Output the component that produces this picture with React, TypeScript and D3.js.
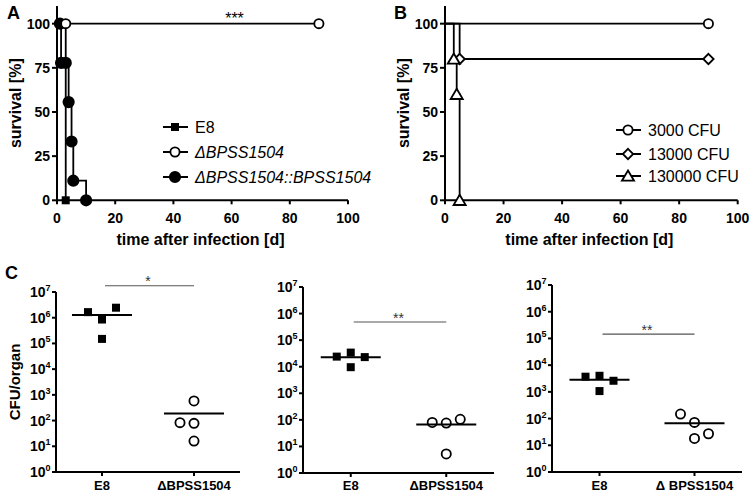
import React from "react";
import * as d3 from "d3";

const FONT = "'Liberation Sans', Arial, Helvetica, sans-serif";

// ---------- Panel A / B data: [day, % survival] ----------
const survivalTicks = [0, 25, 50, 75, 100];
const dayTicks = [0, 20, 40, 60, 80, 100];

const aE8: [number, number][] = [[0, 100], [2, 100], [3, 0]];
const aMutant: [number, number][] = [[0, 100], [3, 100], [90, 100]];
const aComplement: [number, number][] = [
  [0, 100], [1, 100], [1.4, 77.8], [3, 77.8], [4, 55.6], [5, 33.3], [5.6, 11.1], [10, 0],
];
const aLegend = ["E8", "ΔBPSS1504", "ΔBPSS1504::BPSS1504"];
const aSignif = "***";

const b3000: [number, number][] = [[0, 100], [90, 100]];
const b13000: [number, number][] = [[0, 100], [5, 80], [90, 80]];
const b130000: [number, number][] = [[0, 100], [3, 80], [4, 60], [5, 0]];
const bLegend = ["3000 CFU", "13000 CFU", "130000 CFU"];

// ---------- Panel C data: CFU/organ ----------
const cExponents = [0, 1, 2, 3, 4, 5, 6, 7];
const cGroups = ["E8", "ΔBPSS1504"];
const c3Labels = ["E8", "Δ BPSS1504"];

const c1E8 = [1.65e6, 8.5e5, 2.45e6, 1.5e5];
const c1Mut = [580, 83, 78, 16];
const c2E8 = [2.4e4, 3.4e4, 2.3e4, 9.6e3];
const c2Mut = [80, 76, 105, 5.2];
const c3E8 = [3.7e3, 4.0e3, 2.6e3, 1.07e3];
const c3Mut = [148, 72, 27, 18];

// horizontal dodge slot of each point inside its column
const c1E8Slot = [-1, 0, 1, 0];
const c1MutSlot = [0, -1, 0, 0];
const c2E8Slot = [-1, 0, 1, 0];
const c2MutSlot = [-1, 0, 1, 0];
const c3E8Slot = [-1, 0, 1, 0];
const c3MutSlot = [-1, 0, 1, 0];

const cSignif = ["*", "**", "**"];
const cSignifLevel = [1.74e7, 4.8e5, 1.45e5];

type Pt = [number, number];
type Shape = "square" | "circle" | "diamond" | "triangle";

function Marker({ shape, x, y, filled }: { shape: Shape; x: number; y: number; filled: boolean }) {
  const fill = filled ? "#000" : "#fff";
  const sw = 1.8;
  if (shape === "square") {
    const s = 8;
    return <rect x={x - s / 2} y={y - s / 2} width={s} height={s} fill="#000" />;
  }
  if (shape === "circle") {
    const r = filled ? 5.2 : 4.6;
    return <circle cx={x} cy={y} r={r} fill={fill} stroke="#000" strokeWidth={sw} />;
  }
  if (shape === "diamond") {
    const h = 5.2;
    return (
      <path d={`M${x},${y - h}L${x + h},${y}L${x},${y + h}L${x - h},${y}Z`} fill={fill} stroke="#000" strokeWidth={sw} />
    );
  }
  const h = 5.5;
  return (
    <path d={`M${x},${y - h}L${x + h * 1.1},${y + h * 0.85}L${x - h * 1.1},${y + h * 0.85}Z`} fill={fill} stroke="#000" strokeWidth={sw} />
  );
}

type KMSeries = { data: Pt[]; shape: Shape; filled: boolean; label: string; italic: boolean };

function KMPanel({
  left, right, top, bottom, letter, letterX, series, drawOrder, legendX, legendY, signif,
}: {
  left: number; right: number; top: number; bottom: number; letter: string; letterX: number;
  series: KMSeries[]; drawOrder: number[]; legendX: number; legendY: number[]; signif?: string;
}) {
  const x = d3.scaleLinear().domain([0, 100]).range([left, right]);
  const y = d3.scaleLinear().domain([0, 110]).range([bottom, top]);
  const line = d3.line<Pt>().x((d) => x(d[0])).y((d) => y(d[1])).curve(d3.curveStepAfter);
  const ordered = drawOrder.map((i) => series[i]);
  return (
    <g fontFamily={FONT}>
      <text x={letterX} y={19} fontSize={18} fontWeight="bold">{letter}</text>
      {/* axes */}
      <line x1={left} x2={left} y1={y(110)} y2={bottom + 1} stroke="#000" strokeWidth={2} />
      <line x1={left - 1} x2={right} y1={bottom} y2={bottom} stroke="#000" strokeWidth={2} />
      {survivalTicks.map((t) => (
        <g key={t}>
          <line x1={left - 5} x2={left} y1={y(t)} y2={y(t)} stroke="#000" strokeWidth={2} />
          <text x={left - 7} y={y(t)} dy="0.36em" textAnchor="end" fontSize={14} fontWeight="bold">{t}</text>
        </g>
      ))}
      {dayTicks.map((t) => (
        <g key={t}>
          <line x1={x(t)} x2={x(t)} y1={bottom} y2={bottom + 4} stroke="#000" strokeWidth={2} />
          <text x={x(t)} y={bottom + 23} textAnchor="middle" fontSize={14} fontWeight="bold">{t}</text>
        </g>
      ))}
      <text transform={`translate(${left - 42},${(y(110) + bottom) / 2}) rotate(-90)`} textAnchor="middle" dy="0.35em" fontSize={16} fontWeight="bold">
        survival [%]
      </text>
      <text x={(left + right) / 2 - 2} y={bottom + 45} textAnchor="middle" fontSize={16} fontWeight="bold">
        time after infection [d]
      </text>
      {/* curves */}
      {ordered.map((s, i) => (
        <path key={i} d={line(s.data) || ""} fill="none" stroke="#000" strokeWidth={1.8} />
      ))}
      {ordered.map((s, i) =>
        s.data.filter((d) => d[0] > 0).map((d, j) => (
          <Marker key={`${i}-${j}`} shape={s.shape} filled={s.filled} x={x(d[0])} y={y(d[1])} />
        ))
      )}
      {signif && (
        <text x={x(61)} y={24} textAnchor="middle" fontSize={16}>{signif}</text>
      )}
      {/* legend */}
      {series.map((s, i) => (
        <g key={s.label}>
          <line x1={legendX - 12} x2={legendX + 13} y1={legendY[i]} y2={legendY[i]} stroke="#000" strokeWidth={2} />
          <Marker shape={s.shape} filled={s.filled} x={legendX} y={legendY[i]} />
          <text x={legendX + 20} y={legendY[i]} dy="0.36em" fontSize={16} fontStyle={s.italic ? "italic" : "normal"}>{s.label}</text>
        </g>
      ))}
    </g>
  );
}

type Column = { values: number[]; slots: number[]; shape: Shape; filled: boolean };

function CFUPanel({
  left, right, top, bottom, labels, columns, signif, signifLevel, showTitle,
}: {
  left: number; right: number; top: number; bottom: number; labels: string[]; columns: Column[];
  signif: string; signifLevel: number; showTitle: boolean;
}) {
  const y = d3.scaleLog().domain([1, 1e7]).range([bottom, top]);
  const x = d3.scalePoint<string>().domain(cGroups).range([left, right]).padding(0.5);
  const slot = d3.scaleLinear().domain([-1, 1]).range([-14, 14]);
  const sigY = y(signifLevel);
  return (
    <g fontFamily={FONT}>
      {showTitle && (
        <>
          <text x={5} y={279} fontSize={18} fontWeight="bold">C</text>
          <text transform={`translate(${left - 41},${(top + bottom) / 2}) rotate(-90)`} textAnchor="middle" dy="0.35em" fontSize={15} fontWeight="bold">
            CFU/organ
          </text>
        </>
      )}
      <line x1={left} x2={left} y1={top} y2={bottom + 1} stroke="#000" strokeWidth={2} />
      <line x1={left - 1} x2={right} y1={bottom} y2={bottom} stroke="#000" strokeWidth={2} />
      {cExponents.map((e) => (
        <g key={e}>
          <line x1={left - 4} x2={left} y1={y(Math.pow(10, e))} y2={y(Math.pow(10, e))} stroke="#000" strokeWidth={2} />
          <text x={left - 5.5} y={y(Math.pow(10, e)) + 5} textAnchor="end" fontSize={14} fontWeight="bold">
            10<tspan dy={-6} fontSize={9}>{e}</tspan>
          </text>
        </g>
      ))}
      {cGroups.map((g, i) => (
        <g key={g}>
          <line x1={x(g)!} x2={x(g)!} y1={bottom} y2={bottom + 4} stroke="#000" strokeWidth={2} />
          <text x={x(g)!} y={490} textAnchor="middle" fontSize={13} fontWeight="bold">{labels[i]}</text>
        </g>
      ))}
      {columns.map((c, i) => {
        const cx = x(cGroups[i])!;
        const mean = d3.mean(c.values)!;
        return (
          <g key={i}>
            {c.values.map((v, j) => (
              <Marker key={j} shape={c.shape} filled={c.filled} x={cx + slot(c.slots[j])} y={y(v)} />
            ))}
            <line x1={cx - 30} x2={cx + 30} y1={y(mean)} y2={y(mean)} stroke="#000" strokeWidth={2} />
          </g>
        );
      })}
      <line x1={x(cGroups[0])! + 3} x2={x(cGroups[1])!} y1={sigY} y2={sigY} stroke="#555" strokeWidth={1.1} />
      <text x={(x(cGroups[0])! + x(cGroups[1])!) / 2} y={sigY + 0.5} textAnchor="middle" fontSize={14} fill="#333">{signif}</text>
    </g>
  );
}

export default function App() {
  return (
    <svg width={750} height={495} viewBox="0 0 750 495" style={{ position: "absolute", left: 0, top: 0, background: "#fff" }}>
      <rect width={750} height={495} fill="#fff" />
      <KMPanel
        left={57} right={348} top={6} bottom={200.3} letter="A" letterX={7}
        series={[
          { data: aE8, shape: "square", filled: true, label: aLegend[0], italic: false },
          { data: aMutant, shape: "circle", filled: false, label: aLegend[1], italic: true },
          { data: aComplement, shape: "circle", filled: true, label: aLegend[2], italic: true },
        ]}
        drawOrder={[0, 2, 1]}
        legendX={175} legendY={[127, 152, 177]} signif={aSignif}
      />
      <KMPanel
        left={445} right={737.7} top={6} bottom={200.3} letter="B" letterX={394}
        series={[
          { data: b3000, shape: "circle", filled: false, label: bLegend[0], italic: false },
          { data: b13000, shape: "diamond", filled: false, label: bLegend[1], italic: false },
          { data: b130000, shape: "triangle", filled: false, label: bLegend[2], italic: false },
        ]}
        drawOrder={[0, 1, 2]}
        legendX={628} legendY={[130, 154, 176]}
      />
      <CFUPanel
        left={56} right={240} top={292} bottom={472} labels={cGroups} showTitle
        columns={[
          { values: c1E8, slots: c1E8Slot, shape: "square", filled: true },
          { values: c1Mut, slots: c1MutSlot, shape: "circle", filled: false },
        ]}
        signif={cSignif[0]} signifLevel={cSignifLevel[0]}
      />
      <CFUPanel
        left={303} right={494} top={287} bottom={473} labels={cGroups} showTitle={false}
        columns={[
          { values: c2E8, slots: c2E8Slot, shape: "square", filled: true },
          { values: c2Mut, slots: c2MutSlot, shape: "circle", filled: false },
        ]}
        signif={cSignif[1]} signifLevel={cSignifLevel[1]}
      />
      <CFUPanel
        left={552} right={742} top={285} bottom={472} labels={c3Labels} showTitle={false}
        columns={[
          { values: c3E8, slots: c3E8Slot, shape: "square", filled: true },
          { values: c3Mut, slots: c3MutSlot, shape: "circle", filled: false },
        ]}
        signif={cSignif[2]} signifLevel={cSignifLevel[2]}
      />
    </svg>
  );
}
